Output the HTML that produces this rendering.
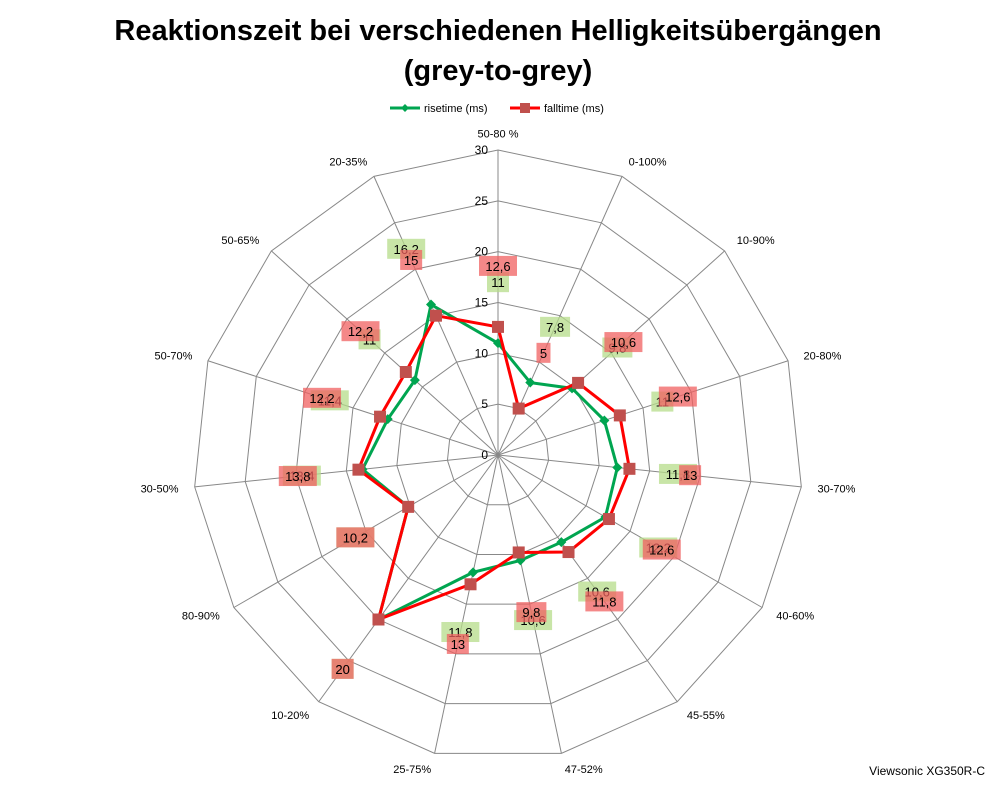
<!DOCTYPE html>
<html><head><meta charset="utf-8"><style>
body{margin:0;background:#fff;font-family:"Liberation Sans",sans-serif}
svg{display:block}
</style></head><body>
<svg id="c" width="998" height="786" xmlns="http://www.w3.org/2000/svg">
<text x="498" y="40" text-anchor="middle" font-size="29" font-weight="bold">Reaktionszeit bei verschiedenen Helligkeitsübergängen</text>
<text x="498" y="80" text-anchor="middle" font-size="29" font-weight="bold">(grey-to-grey)</text>
<g font-size="11">
<g><line x1="390" y1="108" x2="420" y2="108" stroke="#00a550" stroke-width="3"/><path d="M405 104 L409 108 L405 112 L401 108Z" fill="#00a550"/><text x="424" y="112">risetime (ms)</text></g>
<g><line x1="510" y1="108" x2="540" y2="108" stroke="#f00" stroke-width="3"/><rect x="520" y="103" width="10" height="10" fill="#c0504d"/><text x="544" y="112">falltime (ms)</text></g>
</g>
<text x="985" y="775" text-anchor="end" font-size="12">Viewsonic XG350R-C</text>
<g id="grid"></g><g id="series"></g><g id="labels"></g>
</svg>
<script>
const categories=["50-80 %","0-100%","10-90%","20-80%","30-70%","40-60%","45-55%","47-52%","25-75%","10-20%","80-90%","30-50%","50-70%","50-65%","20-35%"];
const riseValues=[11,7.8,9.8,11,11.8,12.2,10.6,10.6,11.8,20,10.2,13.4,11.4,11,16.2];
const fallValues=[12.6,5,10.6,12.6,13,12.6,11.8,9.8,13,20,10.2,13.8,12.2,12.2,15];
const tickLabels=[0,5,10,15,20,25,30];
const NS="http://www.w3.org/2000/svg";
const cx=498,cy=455,R=305,maxV=30,N=categories.length;
function ang(i){return -Math.PI/2+i*2*Math.PI/N;}
function pt(i,v){const a=ang(i),r=v/maxV*R;return [cx+r*Math.cos(a),cy+r*Math.sin(a)];}
function mk(tag,attrs,parent){const e=document.createElementNS(NS,tag);for(const k in attrs)e.setAttribute(k,attrs[k]);parent.appendChild(e);return e;}
const grid=document.getElementById('grid'),ser=document.getElementById('series'),lab=document.getElementById('labels');
tickLabels.forEach(t=>{if(t===0)return;
 const p=mk('polygon',{points:categories.map((c,i)=>pt(i,t).join(',')).join(' '),fill:'none',stroke:'#888','stroke-width':1},grid);
 
 });
categories.forEach((c,i)=>{const p=pt(i,maxV);
 const l=mk('line',{x1:cx,y1:cy,x2:p[0],y2:p[1],stroke:'#888','stroke-width':1},grid);
 
 
 const q=pt(i,maxV+1.6),a=ang(i);const cs=Math.cos(a);
 const t=mk('text',{x:q[0],y:q[1]+4,'font-size':11,'text-anchor':Math.abs(cs)<0.15?'middle':(cs>0?'start':'end')},grid);
 t.textContent=c;
 
 });
tickLabels.forEach(t=>{const y=cy-t/maxV*R;
 const e=mk('text',{x:cx-10,y:y+4,'font-size':12,'text-anchor':'end'},grid);
 e.textContent=t;
 
 });
function series(vals,color,name,marker,lblBg){
 const pts=vals.map((v,i)=>pt(i,v));
 const pl=mk('polygon',{points:pts.map(p=>p.join(',')).join(' '),fill:'none',stroke:color,'stroke-width':3},ser);
 
 
 pts.forEach((p,i)=>{let m;
  if(marker==='sq'){m=mk('rect',{x:p[0]-6,y:p[1]-6,width:12,height:12,fill:'#c0504d'},ser);}
  else{m=mk('path',{d:`M${p[0]} ${p[1]-5}L${p[0]+5} ${p[1]}L${p[0]} ${p[1]+5}L${p[0]-5} ${p[1]}Z`,fill:'#00a550'},ser);}
  
  
  const q=pt(i,vals[i]+6);const s=String(vals[i]).replace('.',',');const w=s.length*8+6;
  const r=mk('rect',{x:q[0]-w/2,y:q[1]-10,width:w,height:20,fill:lblBg,opacity:0.75},lab);
  
  
  const t=mk('text',{x:q[0],y:q[1]+5,'font-size':13,'text-anchor':'middle'},lab);
  t.textContent=s;
  
  });
}
series(riseValues,'#00a550','risetime','dia','#b5dc8a');
series(fallValues,'#f00','falltime','sq','#f06060');
</script>
</body></html>
